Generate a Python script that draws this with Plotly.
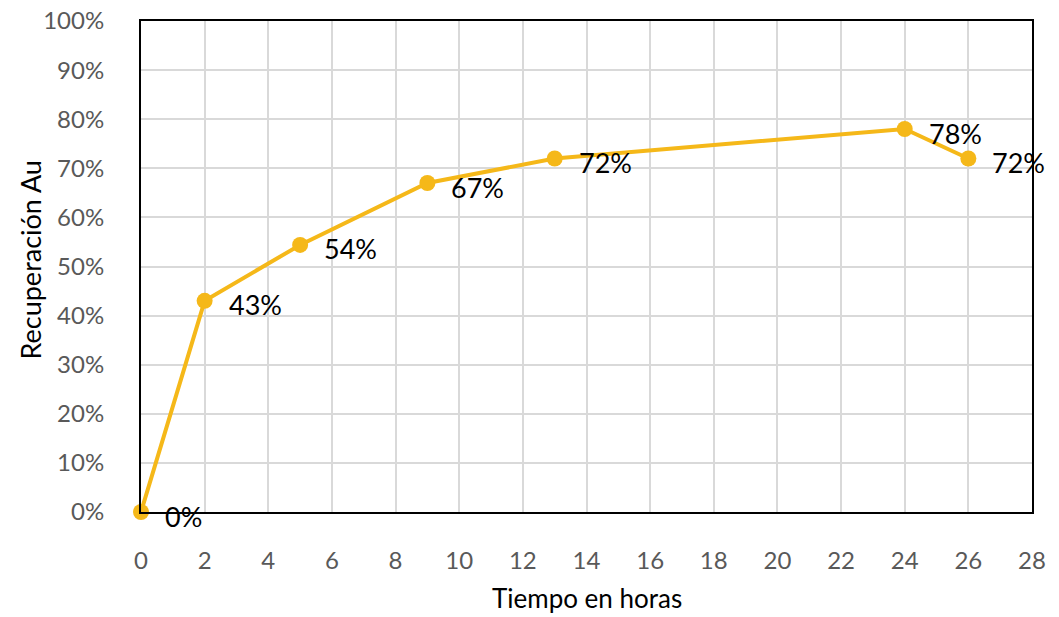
import plotly.graph_objects as go

horas = [0, 2, 5, 9, 13, 24, 26]
recuperacion = [0.0, 0.43, 0.544, 0.67, 0.72, 0.78, 0.72]
x_ticks = list(range(0, 29, 2))
y_ticks = [i / 10 for i in range(0, 11)]
x_title = "Tiempo en horas"
y_title = "Recuperación Au"

gold = "#F5B819"
font_family = "Lato, 'Open Sans', sans-serif"

fig = go.Figure()
fig.add_trace(go.Scatter(
    x=horas, y=recuperacion, mode="lines+markers",
    line=dict(color=gold, width=4),
    marker=dict(color=gold, size=16),
    cliponaxis=False, showlegend=False,
))

for xv, yv in zip(horas, recuperacion):
    fig.add_annotation(
        x=xv, y=yv, text=f"{yv:.0%}", showarrow=False,
        xanchor="left", yanchor="middle", xshift=22, yshift=-4,
        font=dict(family=font_family, size=27, color="#000000"),
    )

fig.add_annotation(
    x=0.5, y=0, xref="paper", yref="paper", yshift=-86, text=x_title,
    showarrow=False, xanchor="center", yanchor="middle",
    font=dict(family=font_family, size=26, color="#000000"),
)
fig.add_annotation(
    x=0, y=0.5, xref="paper", yref="paper", xshift=-111, yshift=6, text=y_title,
    textangle=-90, showarrow=False, xanchor="center", yanchor="middle",
    font=dict(family=font_family, size=27, color="#000000"),
)

# page body has an 8px default margin; compensate so the plot lands where the reference has it
fig.update_layout(
    width=1051, height=609,
    margin=dict(l=133, r=27, t=13, b=105),
    paper_bgcolor="white", plot_bgcolor="white",
    font=dict(family=font_family, color="#595959"),
)
fig.update_xaxes(
    range=[0, 28], tickvals=x_ticks, ticktext=[str(v) for v in x_ticks],
    showgrid=True, gridcolor="#D9D9D9", gridwidth=2,
    showline=True, linecolor="black", linewidth=2, mirror=True,
    zeroline=False, ticks="", ticklabelstandoff=26, automargin=False,
    ticklabeloverflow="allow",
    tickfont=dict(size=24, color="#595959"),
)
fig.update_yaxes(
    range=[0, 1], tickvals=y_ticks, ticktext=[f"{v:.0%}" for v in y_ticks],
    showgrid=True, gridcolor="#D9D9D9", gridwidth=2,
    showline=True, linecolor="black", linewidth=2, mirror=True,
    zeroline=False, ticks="", ticklabelstandoff=30, automargin=False,
    ticklabeloverflow="allow",
    tickfont=dict(size=24, color="#595959"),
)

fig.write_html("out.html")
